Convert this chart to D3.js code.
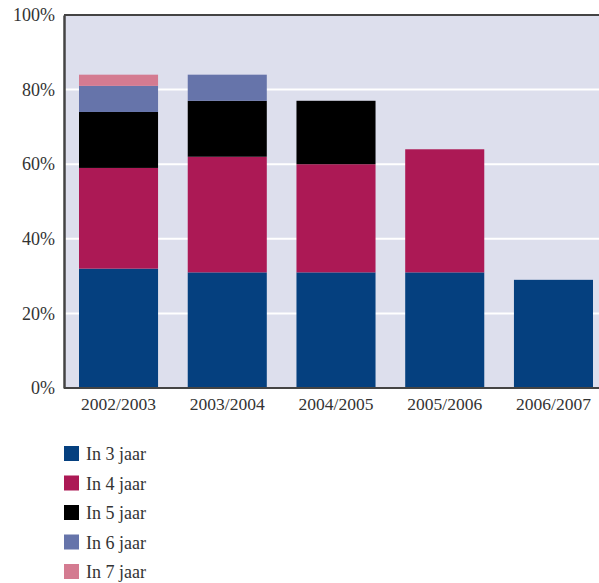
<!DOCTYPE html>
<html>
<head>
<meta charset="utf-8">
<script src="https://cdn.jsdelivr.net/npm/d3@7"></script>
<style>
  body { margin: 0; background: #fff; }
  text { font-family: "Liberation Serif", "DejaVu Serif", serif; fill: #333; }
</style>
</head>
<body>
<svg id="chart" width="599" height="583"></svg>
<script>
// data
var years = ["2002/2003", "2003/2004", "2004/2005", "2005/2006", "2006/2007"];
var series = ["In 3 jaar", "In 4 jaar", "In 5 jaar", "In 6 jaar", "In 7 jaar"];
var in3 = [32, 31, 31, 31, 29];
var in4 = [27, 31, 29, 33, 0];
var in5 = [15, 15, 17, 0, 0];
var in6 = [7, 7, 0, 0, 0];
var in7 = [3, 0, 0, 0, 0];
var yTicks = [0, 20, 40, 60, 80, 100];
var colors = ["#05407f", "#ac1955", "#000000", "#6674aa", "#d47b91"];

var values = [in3, in4, in5, in6, in7];
var rows = years.map(function(y, i) {
    var r = { year: y };
    series.forEach(function(s, j) { r[s] = values[j][i]; });
    return r;
});

var svg = d3.select("#chart");
var plotLeft = 64, plotRight = 599, plotTop = 15, plotBottom = 388;

var x = d3.scaleBand()
    .domain(years)
    .range([79, 593])
    .paddingInner(0.273)
    .paddingOuter(0);

var y = d3.scaleLinear()
    .domain([0, 100])
    .range([plotBottom, plotTop]);

var color = d3.scaleOrdinal().domain(series).range(colors);

// plot background
svg.append("rect")
    .attr("x", plotLeft).attr("y", plotTop)
    .attr("width", plotRight - plotLeft).attr("height", plotBottom - plotTop)
    .attr("fill", "#dddfed");

// grid
svg.append("g").selectAll("line")
    .data(yTicks.filter(function(t) { return t > 0 && t < 100; }))
    .enter().append("line")
    .attr("x1", plotLeft).attr("x2", plotRight)
    .attr("y1", function(d) { return y(d); })
    .attr("y2", function(d) { return y(d); })
    .attr("stroke", "#fff")
    .attr("stroke-width", 2);

var stack = d3.stack().keys(series);
var layers = stack(rows);

svg.append("g").selectAll("g")
    .data(layers)
    .enter().append("g")
    .attr("fill", function(d) { return color(d.key); })
    .selectAll("rect")
    .data(function(d) { return d.filter(function(p) { return p[1] > p[0]; }); })
    .enter().append("rect")
    .attr("x", function(d) { return x(d.data.year); })
    .attr("width", x.bandwidth())
    .attr("y", function(d) { return y(d[1]); })
    .attr("height", function(d) { return y(d[0]) - y(d[1]); });

// frame lines
svg.append("line")
    .attr("x1", plotLeft).attr("x2", plotRight).attr("y1", plotTop).attr("y2", plotTop)
    .attr("stroke", "#444").attr("stroke-width", 2);

var yAxis = svg.append("g")
    .attr("transform", "translate(" + plotLeft + ",0)")
    .call(d3.axisLeft(y).tickValues(yTicks).tickSize(0).tickPadding(9)
        .tickFormat(function(d) { return d + "%"; }));
yAxis.select(".domain").attr("stroke", "#444").attr("stroke-width", 2.5);
yAxis.selectAll("text").attr("font-size", 18).attr("fill", "#333")
    .attr("font-family", "Liberation Serif, serif");

var xAxis = svg.append("g")
    .attr("transform", "translate(0," + plotBottom + ")")
    .call(d3.axisBottom(x).tickSize(0).tickPadding(10));
xAxis.select(".domain").attr("d", "M" + plotLeft + ",0H" + plotRight)
    .attr("stroke", "#444").attr("stroke-width", 2);
xAxis.selectAll("text").attr("font-size", 17.5).attr("fill", "#333")
    .attr("font-family", "Liberation Serif, serif");

// legend
var legend = svg.append("g").selectAll("g")
    .data(series)
    .enter().append("g")
    .attr("transform", function(d, i) { return "translate(64," + (446 + i * 29.5) + ")"; });

legend.append("rect")
    .attr("width", 15).attr("height", 15)
    .attr("fill", function(d) { return color(d); });

legend.append("text")
    .attr("x", 22).attr("y", 8).attr("dy", ".35em")
    .attr("font-size", 18)
    .attr("fill", "#222")
    .text(function(d) { return d; });
</script>
</body>
</html>
